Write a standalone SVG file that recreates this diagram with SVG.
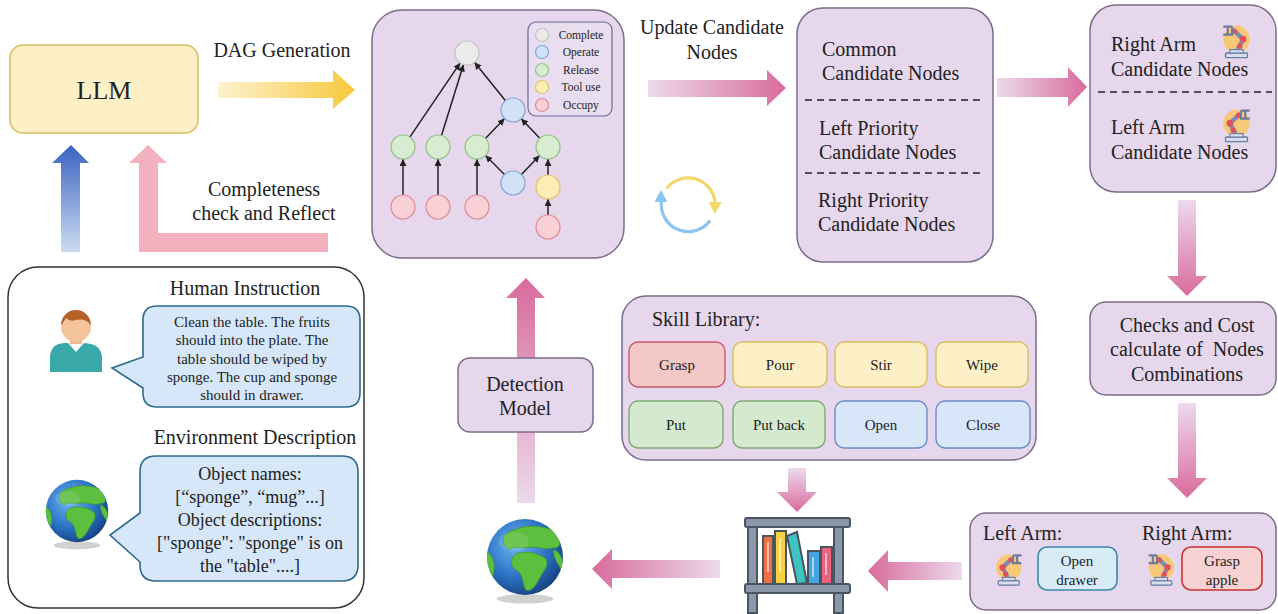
<svg xmlns="http://www.w3.org/2000/svg" xmlns:xlink="http://www.w3.org/1999/xlink" width="1278" height="614" viewBox="0 0 1278 614">
  <style>
    text { font-family: "Liberation Serif", "Times New Roman", serif; fill: #222; }
    .lbl { font-size: 20px; }
    .mid { text-anchor: middle; }
    .small { font-size: 15px; }
    .leg { font-size: 11.5px; text-anchor: middle; }
    .panel { fill: #e6d7ed; stroke: #7c6c8c; stroke-width: 1.5; }
    .dash { stroke: #222; stroke-width: 1.6; stroke-dasharray: 7 5; }
    .edge { stroke: #222; stroke-width: 1.5; fill: none; marker-end: url(#tip); }
    .n-gray { fill: #ebebeb; stroke: #c4c4c4; stroke-width: 1.2; }
    .n-blue { fill: #d1e1f6; stroke: #86a4d4; stroke-width: 1.2; }
    .n-green { fill: #d7ecd0; stroke: #94c286; stroke-width: 1.2; }
    .n-yellow { fill: #fdeeb8; stroke: #e2c466; stroke-width: 1.2; }
    .n-pink { fill: #f8d0d6; stroke: #e08a98; stroke-width: 1.2; }
    .sk-red { fill: #f5c8c8; stroke: #c85a68; stroke-width: 1.4; }
    .sk-yel { fill: #fdf0c6; stroke: #dcbc62; stroke-width: 1.4; }
    .sk-grn { fill: #d4e9cd; stroke: #7eaa72; stroke-width: 1.4; }
    .sk-blu { fill: #d8e6f9; stroke: #6c8cc8; stroke-width: 1.4; }
    .bubble { fill: #d5e7f8; stroke: #2c6a8e; stroke-width: 1.6; }
  </style>
  <defs>
    <marker id="tip" viewBox="0 0 10 10" refX="10" refY="5" markerWidth="7" markerHeight="7" markerUnits="userSpaceOnUse" orient="auto">
      <path d="M0,0 L10,5 L0,10 Z" fill="#222"/>
    </marker>
    <linearGradient id="gYel" x1="0" y1="0" x2="1" y2="0">
      <stop offset="0" stop-color="#fdf2cf"/>
      <stop offset="1" stop-color="#f8c93c"/>
    </linearGradient>
    <linearGradient id="gBlueUp" x1="0" y1="1" x2="0" y2="0">
      <stop offset="0" stop-color="#cddcf2"/>
      <stop offset="1" stop-color="#3a63c0"/>
    </linearGradient>
    <linearGradient id="gPinkR" x1="0" y1="0" x2="1" y2="0">
      <stop offset="0" stop-color="#ecdaec"/>
      <stop offset="1" stop-color="#d96b9c"/>
    </linearGradient>
    <linearGradient id="gPinkL" x1="1" y1="0" x2="0" y2="0">
      <stop offset="0" stop-color="#ecdaec"/>
      <stop offset="1" stop-color="#d96b9c"/>
    </linearGradient>
    <linearGradient id="gPinkD" x1="0" y1="0" x2="0" y2="1">
      <stop offset="0" stop-color="#ecdaec"/>
      <stop offset="1" stop-color="#d96b9c"/>
    </linearGradient>
    <linearGradient id="gPinkU" x1="0" y1="1" x2="0" y2="0">
      <stop offset="0" stop-color="#ecdaec"/>
      <stop offset="1" stop-color="#d96b9c"/>
    </linearGradient>
    <radialGradient id="gSea" cx="0.38" cy="0.35" r="0.7">
      <stop offset="0" stop-color="#6cb4ec"/>
      <stop offset="0.6" stop-color="#2a72c4"/>
      <stop offset="1" stop-color="#15407e"/>
    </radialGradient>
    <clipPath id="globeClip"><circle cx="0" cy="0" r="40"/></clipPath>
    <!-- earth icon, radius 40 around the origin -->
    <g id="globe">
      <ellipse cx="0" cy="44" rx="30" ry="5" fill="#000" opacity="0.18"/>
      <circle cx="0" cy="0" r="40" fill="url(#gSea)"/>
      <g clip-path="url(#globeClip)" fill="#5cbf3e" stroke="#3f9a2a" stroke-width="0.8">
        <path d="M-22,-22 C-12,-32 10,-36 30,-28 C40,-20 38,-8 30,-10 C22,-6 12,-12 4,-10 C-4,-9 -12,-12 -16,-8 C-22,-10 -24,-16 -22,-22 Z"/>
        <path d="M-10,-3 C0,-7 14,-5 22,2 C26,9 19,15 15,23 C11,31 6,37 1,35 C-3,29 -1,21 -7,15 C-15,11 -17,3 -10,-3 Z"/>
        <path d="M-41,-6 C-34,-3 -30,8 -34,20 C-39,12 -42,4 -41,-6 Z"/>
        <path d="M30,-8 C39,-4 42,6 39,14 C35,8 30,2 30,-8 Z"/>
      </g>
      <ellipse cx="-12" cy="-16" rx="16" ry="10" fill="#fff" opacity="0.12"/>
    </g>
    <!-- robot arm icon, about 30 x 32 -->
    <g id="robot">
      <circle cx="15" cy="15" r="12" fill="#f6c878"/>
      <rect x="5" y="27" width="20" height="4" rx="1" fill="#d6def0" stroke="#6c7ca0" stroke-width="1.2"/>
      <rect x="9" y="24" width="12" height="3" fill="#d6def0" stroke="#6c7ca0" stroke-width="1"/>
      <path d="M14,24 L9,15 L18,7" fill="none" stroke="#7c8cb4" stroke-width="4" stroke-linejoin="round"/>
      <circle cx="9" cy="15" r="3" fill="#e2505e"/>
      <circle cx="12" cy="21" r="2.4" fill="#e2505e"/>
      <circle cx="17" cy="8" r="2.4" fill="#e2505e"/>
      <path d="M19,4 L27,4 M19,4 L19,11 L27,11 M23,4 L23,11" fill="none" stroke="#6c7ca0" stroke-width="2"/>
    </g>
  </defs>

  <!-- wide arrows between stages -->
  <g id="connectors">
    <path d="M218,82 H333 V70 L355,90 L333,109 V98 H218 Z" fill="url(#gYel)"/>
    <path d="M61,252 V163 H52 L71,145 L89,163 H80 V252 Z" fill="url(#gBlueUp)"/>
    <path d="M148,145 L167,163 H158 V233 H328 V252 H139 V163 H129 Z" fill="#f3b1c0"/>
    <path d="M648,80 H767 V70 L786,88 L767,106 V97 H648 Z" fill="url(#gPinkR)"/>
    <path d="M997,78 H1068 V67 L1087,87 L1068,107 V97 H997 Z" fill="url(#gPinkR)"/>
    <path d="M1178,200 V276 H1167 L1187,296 L1207,276 H1196 V200 Z" fill="url(#gPinkD)"/>
    <path d="M1178,403 V478 H1167 L1187,498 L1207,478 H1196 V403 Z" fill="url(#gPinkD)"/>
    <path d="M962,562 H888 V550 L868,571 L888,592 V580 H962 Z" fill="url(#gPinkL)"/>
    <path d="M788,468 V492 H777 L797,512 L817,492 H806 V468 Z" fill="url(#gPinkD)"/>
    <path d="M720,560 H612 V549 L592,569 L612,589 V578 H720 Z" fill="url(#gPinkL)"/>
    <path d="M517,503 V298 H506 L526,278 L545,298 H535 V503 Z" fill="url(#gPinkU)"/>
  </g>

  <g id="llm">
    <rect x="10" y="45" width="188" height="88" rx="13" fill="#fdf0c6" stroke="#d6bb62" stroke-width="1.5"/>
    <text x="104" y="99" class="mid" font-size="26">LLM</text>
  </g>

  <g id="arrow-labels">
    <text x="282" y="57" class="lbl mid">DAG Generation</text>
    <text x="264" y="196" class="lbl mid">Completeness</text>
    <text x="264" y="220" class="lbl mid">check and Reflect</text>
    <text x="712" y="34" class="lbl mid">Update Candidate</text>
    <text x="712" y="59" class="lbl mid">Nodes</text>
  </g>

  <g id="inputs">
    <rect x="8" y="267" width="356" height="341" rx="30" fill="#fff" stroke="#333" stroke-width="1.5"/>
    <text x="245" y="295" class="lbl mid">Human Instruction</text>
    <g id="person">
      <path d="M50,372 V358 Q50,344 64,343 H84 Q102,344 102,358 V372 Z" fill="#3aa9a9"/>
      <path d="M68,343 L76,352 L84,343 Z" fill="#fff"/>
      <rect x="70" y="336" width="12" height="8" fill="#efb88e"/>
      <circle cx="76" cy="327" r="15" fill="#f3c49b"/>
      <path d="M61,325 A15,15 0 0 1 91,325 Q85,318 76,320 Q70,322 66,318 Q64,322 61,325 Z" fill="#b5622a"/>
    </g>
    <path class="bubble" d="M157,306 H346 Q360,306 360,320 V393 Q360,407 346,407 H157 Q143,407 143,393 V388 L112,368 L143,357 V320 Q143,306 157,306 Z"/>
    <text class="small mid" x="252" y="327">Clean the table. The fruits</text>
    <text class="small mid" x="252" y="345">should into the plate. The</text>
    <text class="small mid" x="252" y="364">table should be wiped by</text>
    <text class="small mid" x="252" y="382">sponge. The cup and sponge</text>
    <text class="small mid" x="252" y="400">should in drawer.</text>

    <text x="255" y="444" class="lbl mid">Environment Description</text>
    <use xlink:href="#globe" transform="translate(77,511) scale(0.78)"/>
    <path class="bubble" d="M156,456 H342 Q358,456 358,472 V565 Q358,581 342,581 H156 Q140,581 140,565 V562 L110,535 L140,513 V472 Q140,456 156,456 Z"/>
    <text class="mid" font-size="18" x="250" y="480">Object names:</text>
    <text class="mid" font-size="18" x="250" y="503">[“sponge”, “mug”...]</text>
    <text class="mid" font-size="18" x="250" y="526">Object descriptions:</text>
    <text class="mid" font-size="18" x="250" y="549">["sponge": "sponge" is on</text>
    <text class="mid" font-size="18" x="250" y="572">the "table"....]</text>
  </g>

  <g id="dag">
    <rect class="panel" x="372" y="10" width="252" height="248" rx="30"/>
    <g id="legend">
      <rect x="528" y="22" width="84" height="94" rx="8" fill="#e9deef" stroke="#6a6a94" stroke-width="1.2"/>
      <circle class="n-gray" cx="542" cy="35" r="6.5"/>
      <circle class="n-blue" cx="542" cy="52" r="6.5"/>
      <circle class="n-green" cx="542" cy="70" r="6.5"/>
      <circle class="n-yellow" cx="542" cy="87" r="6.5"/>
      <circle class="n-pink" cx="542" cy="105" r="6.5"/>
      <text class="leg" x="581" y="39">Complete</text>
      <text class="leg" x="581" y="56">Operate</text>
      <text class="leg" x="581" y="74">Release</text>
      <text class="leg" x="581" y="91">Tool use</text>
      <text class="leg" x="581" y="109">Occupy</text>
    </g>
    <g id="dag-edges">
      <line class="edge" x1="409.8" y1="137.1" x2="460.2" y2="62.9"/>
      <line class="edge" x1="441.5" y1="135.5" x2="463.5" y2="64.5"/>
      <line class="edge" x1="505.5" y1="100.7" x2="474.5" y2="62.3"/>
      <line class="edge" x1="485.4" y1="138.4" x2="504.6" y2="118.6"/>
      <line class="edge" x1="539.8" y1="138.3" x2="521.2" y2="118.7"/>
      <line class="edge" x1="504.5" y1="174.5" x2="485.5" y2="155.5"/>
      <line class="edge" x1="521.4" y1="174.4" x2="539.6" y2="155.6"/>
      <line class="edge" x1="403" y1="195" x2="403" y2="159"/>
      <line class="edge" x1="438" y1="195" x2="438" y2="159"/>
      <line class="edge" x1="477" y1="195" x2="477" y2="159"/>
      <line class="edge" x1="548" y1="215" x2="548" y2="199"/>
      <line class="edge" x1="548" y1="175" x2="548" y2="159"/>
    </g>
    <g id="dag-nodes">
      <circle class="n-gray" cx="467" cy="53" r="12"/>
      <circle class="n-blue" cx="513" cy="110" r="12"/>
      <circle class="n-green" cx="403" cy="147" r="12"/>
      <circle class="n-green" cx="438" cy="147" r="12"/>
      <circle class="n-green" cx="477" cy="147" r="12"/>
      <circle class="n-green" cx="548" cy="147" r="12"/>
      <circle class="n-blue" cx="513" cy="183" r="12"/>
      <circle class="n-yellow" cx="548" cy="187" r="12"/>
      <circle class="n-pink" cx="403" cy="207" r="12"/>
      <circle class="n-pink" cx="438" cy="207" r="12"/>
      <circle class="n-pink" cx="477" cy="207" r="12"/>
      <circle class="n-pink" cx="548" cy="227" r="12"/>
    </g>
  </g>

  <g id="cycle">
    <path d="M666.7,188.4 A27,27 0 0 1 715,203" fill="none" stroke="#f6d66a" stroke-width="3.2"/>
    <path d="M708.5,202 L721.5,202 L715,214 Z" fill="#f6d66a"/>
    <path d="M710.1,220.5 A27,27 0 0 1 661.4,202" fill="none" stroke="#8ec4ee" stroke-width="3.2"/>
    <path d="M654.5,202 L667.5,202 L661,190 Z" fill="#8ec4ee"/>
  </g>

  <g id="candidates">
    <rect class="panel" x="797" y="8" width="196" height="254" rx="26"/>
    <text class="lbl" x="822" y="56">Common</text>
    <text class="lbl" x="822" y="80">Candidate Nodes</text>
    <line class="dash" x1="805" y1="100" x2="980" y2="100"/>
    <text class="lbl" x="819" y="135">Left Priority</text>
    <text class="lbl" x="819" y="159">Candidate Nodes</text>
    <line class="dash" x1="805" y1="173" x2="980" y2="173"/>
    <text class="lbl" x="818" y="207">Right Priority</text>
    <text class="lbl" x="818" y="231">Candidate Nodes</text>
  </g>

  <g id="arm-candidates">
    <rect class="panel" x="1090" y="5" width="186" height="187" rx="26"/>
    <text class="lbl" x="1111" y="51">Right Arm</text>
    <text class="lbl" x="1111" y="76">Candidate Nodes</text>
    <use xlink:href="#robot" transform="translate(1253,22) scale(-1.1,1.15)"/>
    <line class="dash" x1="1098" y1="92" x2="1272" y2="92"/>
    <text class="lbl" x="1111" y="134">Left Arm</text>
    <text class="lbl" x="1111" y="159">Candidate Nodes</text>
    <use xlink:href="#robot" transform="translate(1220,106) scale(1.1,1.15)"/>
  </g>

  <g id="checks">
    <rect class="panel" x="1090" y="302" width="186" height="93" rx="16"/>
    <text class="lbl mid" x="1187" y="332">Checks and Cost</text>
    <text class="lbl mid" x="1187" y="356">calculate of&#160; Nodes</text>
    <text class="lbl mid" x="1187" y="381">Combinations</text>
  </g>

  <g id="assignment">
    <rect class="panel" x="970" y="513" width="306" height="97" rx="16"/>
    <text class="lbl" x="983" y="540">Left Arm:</text>
    <text class="lbl" x="1142" y="540">Right Arm:</text>
    <use xlink:href="#robot" transform="translate(993,551) scale(1.05,1.1)"/>
    <rect x="1038" y="547" width="79" height="43" rx="9" fill="#d8ecf8" stroke="#3a8aaa" stroke-width="1.6"/>
    <text class="small mid" x="1077" y="566">Open</text>
    <text class="small mid" x="1077" y="585">drawer</text>
    <use xlink:href="#robot" transform="translate(1177,551) scale(-1.05,1.1)"/>
    <rect x="1182" y="547" width="80" height="43" rx="9" fill="#f8d2d2" stroke="#c83232" stroke-width="1.6"/>
    <text class="small mid" x="1222" y="566">Grasp</text>
    <text class="small mid" x="1222" y="585">apple</text>
  </g>

  <g id="skill-library">
    <rect class="panel" x="622" y="296" width="414" height="164" rx="24"/>
    <text class="lbl" x="652" y="326">Skill Library:</text>
    <rect class="sk-red" x="629" y="342" width="96" height="45" rx="9"/>
    <rect class="sk-yel" x="733" y="342" width="94" height="45" rx="9"/>
    <rect class="sk-yel" x="835" y="342" width="92" height="45" rx="9"/>
    <rect class="sk-yel" x="936" y="342" width="92" height="45" rx="9"/>
    <rect class="sk-grn" x="629" y="401" width="94" height="47" rx="9"/>
    <rect class="sk-grn" x="733" y="401" width="92" height="47" rx="9"/>
    <rect class="sk-blu" x="835" y="401" width="92" height="47" rx="9"/>
    <rect class="sk-blu" x="936" y="401" width="94" height="47" rx="9"/>
    <text class="small mid" x="677" y="370">Grasp</text>
    <text class="small mid" x="780" y="370">Pour</text>
    <text class="small mid" x="881" y="370">Stir</text>
    <text class="small mid" x="982" y="370">Wipe</text>
    <text class="small mid" x="676" y="430">Put</text>
    <text class="small mid" x="779" y="430">Put back</text>
    <text class="small mid" x="881" y="430">Open</text>
    <text class="small mid" x="983" y="430">Close</text>
  </g>

  <g id="detection-model">
    <rect class="panel" x="458" y="358" width="135" height="74" rx="12"/>
    <text class="lbl mid" x="525" y="391">Detection</text>
    <text class="lbl mid" x="525" y="415">Model</text>
  </g>

  <g id="bookshelf" stroke="#4a5562" stroke-width="2">
    <rect x="748" y="527" width="9" height="86" fill="#8a98aa"/>
    <rect x="834" y="527" width="9" height="86" fill="#8a98aa"/>
    <rect x="763" y="536" width="10" height="48" fill="#f07044"/>
    <rect x="775" y="531" width="11" height="53" fill="#f8d040"/>
    <path d="M787,536 L797,532 L807,583 L797,584 Z" fill="#3ec4c0"/>
    <rect x="808" y="551" width="12" height="33" fill="#42a2e2"/>
    <rect x="821" y="547" width="11" height="37" fill="#f06080"/>
    <rect x="745" y="518" width="105" height="9" rx="2" fill="#8a98aa"/>
    <rect x="745" y="584" width="105" height="9" rx="2" fill="#8a98aa"/>
    <g stroke="none" fill="#fff" opacity="0.55">
      <rect x="767" y="542" width="2" height="30"/>
      <rect x="779" y="538" width="2" height="34"/>
      <rect x="812" y="557" width="2" height="20"/>
      <rect x="825" y="553" width="2" height="22"/>
    </g>
  </g>

  <g id="world">
    <use xlink:href="#globe" transform="translate(525,557) scale(0.95)"/>
  </g>
</svg>
